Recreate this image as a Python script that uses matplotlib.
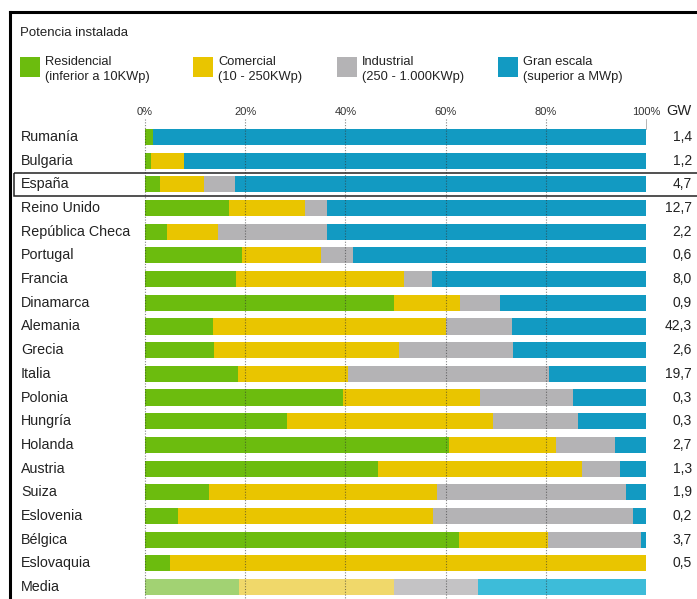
import matplotlib
matplotlib.use("Agg")
from matplotlib import pyplot as plt
from matplotlib.lines import Line2D
from matplotlib.patches import Rectangle
from matplotlib.transforms import blended_transform_factory
import numpy as np

plt.rcParams['font.family'] = ['Liberation Sans', 'DejaVu Sans']

paises = ["Rumanía", "Bulgaria", "España", "Reino Unido", "República Checa", "Portugal",
	"Francia", "Dinamarca", "Alemania", "Grecia", "Italia", "Polonia", "Hungría", "Holanda",
	"Austria", "Suiza", "Eslovenia", "Bélgica", "Eslovaquia", "Media"]
residencial = [1.5, 1.2, 3.0, 16.8, 4.3, 19.4, 18.2, 49.7, 13.6, 13.8, 18.6, 39.5, 28.3, 60.7, 46.5, 12.8, 6.6, 62.7, 5.0, 18.8]
comercial = [0, 6.6, 8.8, 15.2, 10.3, 15.7, 33.5, 13.2, 46.5, 36.9, 21.9, 27.4, 41.2, 21.3, 40.7, 45.5, 50.9, 17.7, 95.0, 30.9]
industrial = [0, 0, 6.2, 4.3, 21.7, 6.4, 5.6, 8.0, 13.2, 22.8, 40.1, 18.5, 16.9, 11.8, 7.6, 37.7, 39.9, 18.6, 0, 16.8]
granEscala = [98.5, 92.2, 82.0, 63.7, 63.7, 58.5, 42.7, 29.1, 26.7, 26.5, 19.4, 14.6, 13.6, 6.2, 5.2, 4.0, 2.6, 1.0, 0, 33.5]
potenciaGW = [1.4, 1.2, 4.7, 12.7, 2.2, 0.6, 8.0, 0.9, 42.3, 2.6, 19.7, 0.3, 0.3, 2.7, 1.3, 1.9, 0.2, 3.7, 0.5, None]
ticks = [0, 20, 40, 60, 80, 100]

series = [
	("Residencial", "(inferior a 10KWp)", residencial, "#6cbc0e", "#a2d273"),
	("Comercial", "(10 - 250KWp)", comercial, "#e9c500", "#f0d86a"),
	("Industrial", "(250 - 1.000KWp)", industrial, "#b4b3b5", "#c4c3c5"),
	("Gran escala", "(superior a MWp)", granEscala, "#129ac2", "#3dbcd9"),
]

W, H = 697, 599
fig = plt.figure(figsize=(W / 100, H / 100), dpi=100)

def fx(px):
	return px / W

def fy(py):
	return 1 - py / H

# bars area: 0% at x=145, 100% at x=646, rows 23.7 px apart
rowTop = 125.2
rowStep = 23.68
n = len(paises)
ax = fig.add_axes([fx(145), fy(rowTop + n * rowStep), fx(646) - fx(145), (n * rowStep) / H])
ax.set_xlim(0, 100)
ax.set_ylim(n - 0.5, -0.5)
ax.axis("off")

y = np.arange(n)
left = np.zeros(n)
for nombre, detalle, valores, color, colorMedia in series:
	valores = np.array(valores, dtype=float)
	colores = [color] * (n - 1) + [colorMedia]
	ax.barh(y, valores, left=left, height=0.68, color=colores, linewidth=0, zorder=2)
	left += valores

for t in ticks[:-1]:
	ax.plot([t, t], [-0.75, n - 0.5], color="#333333", linestyle=(0, (1, 1.5)), linewidth=0.8,
		alpha=0.6, zorder=3, clip_on=False)
ax.plot([100, 100], [-0.75, -0.35], color="#aaaaaa", linewidth=0.6, zorder=1, clip_on=False)

for t in ticks:
	fig.text(fx(145 + t * 5.01), fy(112), f"{t}%", fontsize=8, ha="center", va="center", color="#333333")
fig.text(fx(666), fy(111), "GW", fontsize=10.5, ha="left", va="center", color="#222222")

trans = blended_transform_factory(fig.transFigure, ax.transData)
for i, pais in enumerate(paises):
	ax.text(fx(21), i, pais, transform=trans, fontsize=10.3, ha="left", va="center", color="#222222")
	if potenciaGW[i] is not None:
		ax.text(fx(692), i, f"{potenciaGW[i]:.1f}".replace(".", ","), transform=trans,
			fontsize=10, ha="right", va="center", color="#222222")

# highlight box around España
fila = paises.index("España")
ax.add_patch(Rectangle((fx(14), fila - 0.5), fx(700) - fx(14), 1.0, transform=trans,
	fill=False, edgecolor="#222222", linewidth=1.1, clip_on=False, zorder=4))

# title and legend
fig.text(fx(20), fy(33), "Potencia instalada", fontsize=9.5, ha="left", va="center", color="#222222")
legendX = [20, 193, 337, 498]
for (nombre, detalle, valores, color, colorMedia), lx in zip(series, legendX):
	fig.patches.append(Rectangle((fx(lx), fy(77)), 20 / W, 20 / H, transform=fig.transFigure,
		facecolor=color, edgecolor="none"))
	fig.text(fx(lx + 25), fy(62), nombre, fontsize=9.3, ha="left", va="center", color="#222222")
	fig.text(fx(lx + 25), fy(77), detalle, fontsize=9.3, ha="left", va="center", color="#222222")

# frame on top and left
fig.lines.append(Line2D([fx(10), fx(10)], [fy(12), 0], transform=fig.transFigure, color="black", linewidth=2.2))
fig.lines.append(Line2D([fx(10), 1], [fy(12), fy(12)], transform=fig.transFigure, color="black", linewidth=2.2))

fig.savefig("out.png", dpi=100, facecolor="white")
